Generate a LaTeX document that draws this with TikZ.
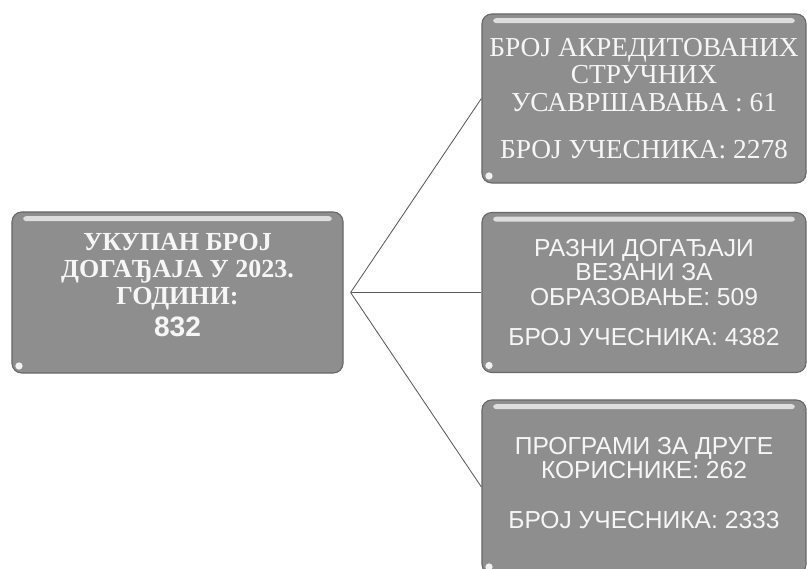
\documentclass[tikz,border=0pt]{standalone}
\usepackage{fontspec}
\setmainfont{Liberation Serif}
\setsansfont{Liberation Sans}
\usepackage{tikz}
\usetikzlibrary{calc}
\usepackage{xcolor}
\definecolor{sivaokvir}{RGB}{142,142,142}
\definecolor{sivaivica}{RGB}{105,105,105}
\definecolor{sivaslovo}{RGB}{246,246,246}
\tikzset{
    okvir/.style={draw=sivaivica, fill=sivaokvir, line width=0.8pt, rounded corners=7pt,
        text=sivaslovo, align=center, inner sep=0pt,
        path picture={
            \fill[white!70!sivaokvir, rounded corners=2pt]
                ($(path picture bounding box.north west)+(8pt,-3pt)$) rectangle
                ($(path picture bounding box.north east)+(-8pt,-6.5pt)$);
            \fill[white!90!gray]
                ($(path picture bounding box.south west)+(5pt,5pt)$) circle (2.6pt);}},
    veza/.style={draw=black!65, line width=0.6pt}
}

\begin{document}
\begin{tikzpicture}[x=0.025cm, y=-0.025cm]
    \useasboundingbox (0,0) rectangle (807,568);
    \node[okvir, minimum width=8.275cm, minimum height=4.025cm, text depth=11pt,
          font=\fontsize{18.5}{19.5}\selectfont\bfseries] (ukupno) at (177.5,292.5)
        {УКУПАН БРОЈ\\ ДОГАЂАЈА У 2023.\\ ГОДИНИ:\\[3pt] {\sffamily\fontsize{20}{20}\selectfont 832}};
    \node[okvir, minimum width=8.1cm, minimum height=4.225cm,
          font=\fontsize{19.5}{19.5}\selectfont] (strucna) at (644,98.5)
        {БРОЈ АКРЕДИТОВАНИХ\\ СТРУЧНИХ\\ УСАВРШАВАЊА : 61\\[14pt] БРОЈ УЧЕСНИКА: 2278};
    \node[okvir, minimum width=8.1cm, minimum height=4cm,
          font=\sffamily\fontsize{17.5}{17.5}\selectfont] (razni) at (644,292.5)
        {РАЗНИ ДОГАЂАЈИ\\ ВЕЗАНИ ЗА\\ ОБРАЗОВАЊЕ: 509\\[11pt] БРОЈ УЧЕСНИКА: 4382};
    \node[okvir, minimum width=8.1cm, minimum height=4.35cm, text depth=6pt,
          font=\sffamily\fontsize{17.5}{17.5}\selectfont] (programi) at (644,487)
        {ПРОГРАМИ ЗА ДРУГЕ\\ КОРИСНИКЕ: 262\\[18pt] БРОЈ УЧЕСНИКА: 2333};
    % grananje iz jedne tacke desno od okvira
    \coordinate (cvor) at ($(ukupno.east)+(7,0)$);
    \foreach \n in {strucna, razni, programi}
        \draw[veza] (cvor) -- (\n.west);
\end{tikzpicture}
\end{document}
